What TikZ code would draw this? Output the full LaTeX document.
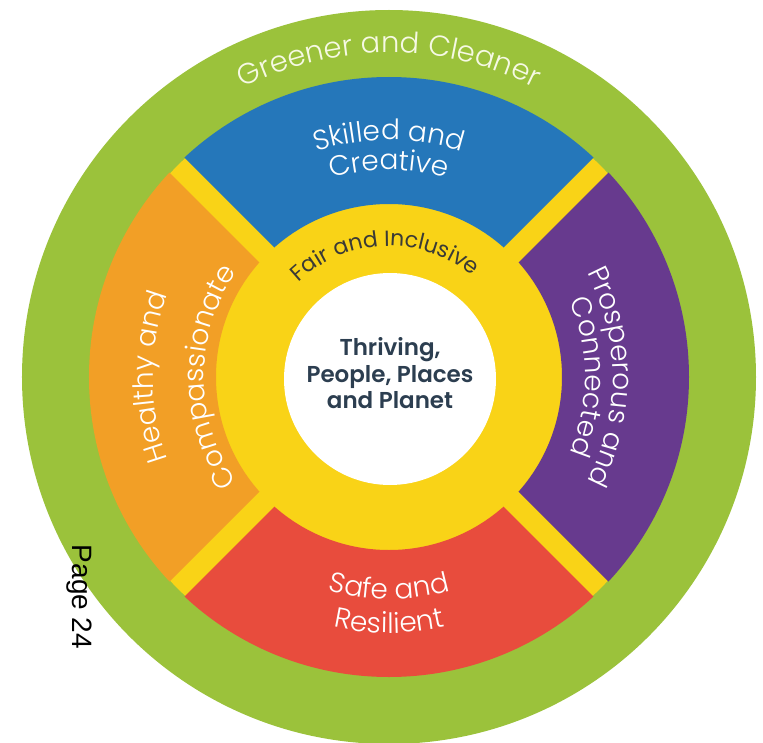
\documentclass[tikz,border=0pt]{standalone}
\usepackage{fontspec}
\setmainfont{Poppins}
\newfontfamily\lightfont{Poppins Light}
\newfontfamily\semifont{Poppins SemiBold}
\newfontfamily\pagefont{Liberation Sans}
\usetikzlibrary{decorations.text}

\definecolor{ringgreen}{HTML}{9BC23B}
\definecolor{ringyellow}{HTML}{F9D317}
\definecolor{segblue}{HTML}{2577BA}
\definecolor{segorange}{HTML}{F29F26}
\definecolor{segpurple}{HTML}{673A8E}
\definecolor{segred}{HTML}{E84C3D}
\definecolor{greenertext}{HTML}{F6F9E4}
\definecolor{fairtext}{HTML}{3A3A36}
\definecolor{coretext}{HTML}{2C3E50}

% text set along a circular arc: #1 format, #2 radius, #3 start angle, #4 end angle, #5 text
\newcommand\ringtext[5]{%
  \path[decorate, decoration={text along path, text align=center, text={|#1|#5}}]
    (#3:#2) arc[start angle=#3, end angle=#4, radius=#2];
}
\newcommand\seglabel{\lightfont\fontsize{28}{30}\selectfont\color{white}}

\begin{document}
\begin{tikzpicture}[x=1pt, y=1pt]
  % page area
  \fill[white] (-389,-365) rectangle (374,377);
  \useasboundingbox (-389,-365) rectangle (374,377);

  % outer green ring and the yellow disc behind the segments
  \fill[ringgreen] (0,0) circle[radius=367pt];
  \fill[ringyellow] (0,0) circle[radius=299pt];

  % the four segments, separated by yellow diagonal bands
  \def\gap{15}
  \begin{scope}
    \clip (0,\gap) -- (420,420+\gap) -- (-420,420+\gap) -- cycle;
    \fill[segblue, even odd rule] (0,0) circle[radius=300pt] circle[radius=173pt];
  \end{scope}
  \begin{scope}
    \clip (-\gap,0) -- (-420-\gap,420) -- (-420-\gap,-420) -- cycle;
    \fill[segorange, even odd rule] (0,0) circle[radius=300pt] circle[radius=173pt];
  \end{scope}
  \begin{scope}
    \clip (\gap,0) -- (420+\gap,420) -- (420+\gap,-420) -- cycle;
    \fill[segpurple, even odd rule] (0,0) circle[radius=300pt] circle[radius=173pt];
  \end{scope}
  \begin{scope}
    \clip (0,-\gap) -- (420,-420-\gap) -- (-420,-420-\gap) -- cycle;
    \fill[segred, even odd rule] (0,0) circle[radius=300pt] circle[radius=173pt];
  \end{scope}

  % white core
  \fill[white] (1,-2) circle[radius=106pt];

  % ring captions
  \ringtext{\lightfont\fontsize{29}{30}\selectfont\color{greenertext}}{324pt}{150}{30}{Greener and Cleaner}
  \ringtext{\fontsize{22}{24}\selectfont\color{fairtext}}{131pt}{182}{2}{Fair and Inclusive}

  % segment captions
  \ringtext{\seglabel}{237pt}{150}{30}{Skilled and}
  \ringtext{\seglabel}{207pt}{150}{30}{Creative}
  \ringtext{\seglabel}{222pt}{210}{330}{Safe and}
  \ringtext{\seglabel}{256pt}{210}{330}{Resilient}
  \ringtext{\seglabel}{236pt}{240}{120}{Healthy and}
  \ringtext{\seglabel}{185pt}{240}{120}{Compassionate}
  \ringtext{\seglabel}{224pt}{60}{-60}{Prosperous and}
  \ringtext{\seglabel}{196pt}{60}{-60}{Connected}

  % centre statement
  \node[align=center, text=coretext, font=\semifont\fontsize{23}{26.5}\selectfont]
    (core) at (1,3.5) {Thriving,\\People, Places\\and Planet};

  % page number
  \node[rotate=-90, font=\pagefont\fontsize{28}{30}\selectfont, text=black]
    (pagenum) at (-310,-220) {Page 24};
\end{tikzpicture}
\end{document}
